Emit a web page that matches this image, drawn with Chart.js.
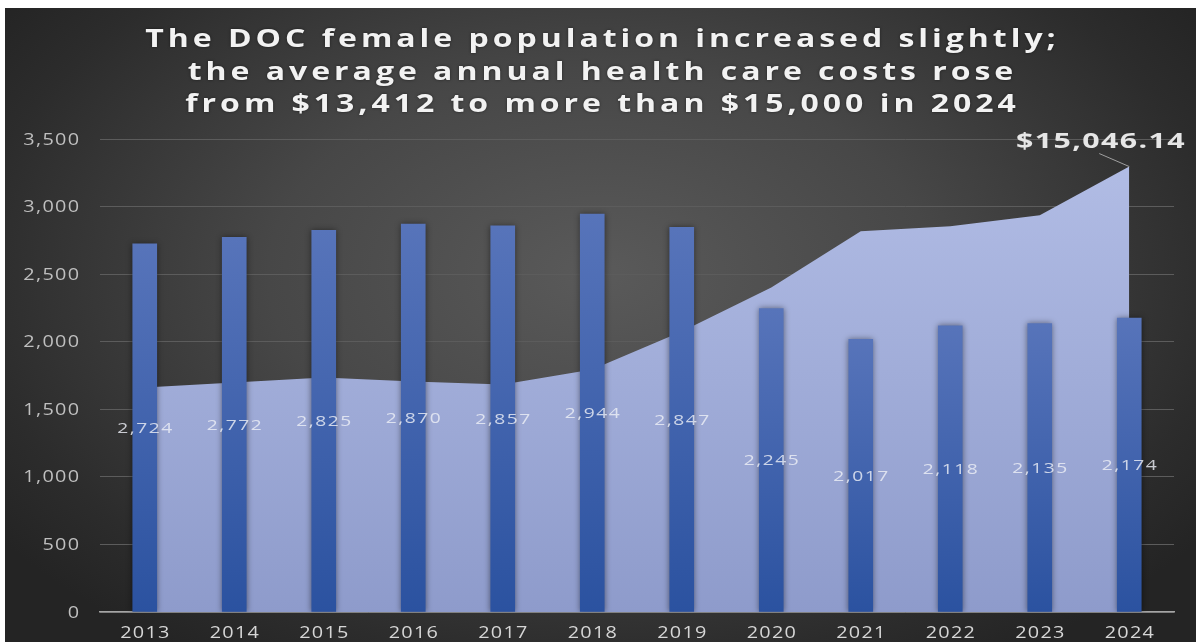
<!DOCTYPE html>
<html>
<head>
<meta charset="utf-8">
<script src="https://cdn.jsdelivr.net/npm/chart.js@4.4.1/dist/chart.umd.min.js"></script>
<style>
  html, body { margin: 0; padding: 0; background: #fff; }
  #wrap {
    position: absolute; left: 5px; top: 8px; width: 1191px; height: 634px;
    background: radial-gradient(ellipse 62% 72% at 50% 42%, #5a5a5a 0%, #474747 45%, #2c2c2c 85%, #242424 100%);
  }
</style>
</head>
<body>
<div id="wrap"><canvas id="costChart"></canvas></div>
<script>
// Female DOC population (bars) and average annual health care cost per inmate (area)
const years = ["2013", "2014", "2015", "2016", "2017", "2018", "2019", "2020", "2021", "2022", "2023", "2024"];
const femalePopulation = [2724, 2772, 2825, 2870, 2857, 2944, 2847, 2245, 2017, 2118, 2135, 2174];
const avgHealthCost = [13412, 13449, 13486, 13456, 13434, 13545, 13826, 14152, 14567, 14604, 14685, 15046.14];

const titleLines = [
  "The DOC female population increased slightly;",
  "the average annual health care costs rose",
  "from $13,412 to more than $15,000 in 2024",
];

// left axis in people, hidden right axis in dollars
const popAxis = { min: 0, max: 3500, step: 500 };
const costAxis = { min: 11750, max: 15250 };

// all text on this chart is drawn wide and a little spaced
const WIDE = 1.28;

Chart.defaults.font.family = '"Open Sans", sans-serif';

function barFill(ctx) {
  const chart = ctx.chart;
  if (!chart.chartArea || ctx.type !== "data") return "#3a5fab";
  const y = chart.scales.y;
  const top = y.getPixelForValue(ctx.raw);
  const base = y.getPixelForValue(0);
  const g = chart.ctx.createLinearGradient(0, top, 0, base);
  g.addColorStop(0, "#5774ba");
  g.addColorStop(1, "#2b52a0");
  return g;
}

function areaFill(ctx) {
  const area = ctx.chart.chartArea;
  if (!area) return "#a3afdc";
  const g = ctx.chart.ctx.createLinearGradient(0, area.top, 0, area.bottom);
  g.addColorStop(0, "#b3bee6");
  g.addColorStop(1, "#8e9bcb");
  return g;
}

function wideText(c, text, x, y, sx, align, spacing) {
  c.save();
  c.letterSpacing = spacing + "px";
  // trailing letter spacing would push the text off centre
  const shift = align === "center" ? spacing / 2 : align === "right" ? spacing : 0;
  c.translate(x, y);
  c.scale(sx, 1);
  c.textAlign = align;
  c.textBaseline = "alphabetic";
  c.fillText(text, shift, 0);
  c.restore();
}

// title, axis labels, bar labels, last cost label and the soft shadow on the bars
const chartText = {
  id: "chartText",
  beforeDatasetDraw(chart, args) {
    if (args.meta.type === "bar") {
      chart.ctx.shadowColor = "rgba(0,0,0,0.45)";
      chart.ctx.shadowBlur = 6;
    }
  },
  afterDatasetDraw(chart, args) {
    if (args.meta.type === "bar") {
      chart.ctx.shadowColor = "transparent";
      chart.ctx.shadowBlur = 0;
    }
  },
  afterDatasetsDraw(chart) {
    const c = chart.ctx;
    c.save();
    c.font = '15px "Open Sans"';
    c.fillStyle = "rgba(236,238,245,0.82)";
    chart.getDatasetMeta(0).data.forEach((bar, i) => {
      wideText(c, femalePopulation[i].toLocaleString("en-US"), bar.x, (bar.y + bar.base) / 2 + 5.4, WIDE, "center", 1.2);
    });

    const pts = chart.getDatasetMeta(1).data;
    const last = pts[pts.length - 1];
    const v = avgHealthCost[avgHealthCost.length - 1];
    c.strokeStyle = "#a0a0a0";
    c.lineWidth = 1;
    c.beginPath();
    c.moveTo(last.x - 30, last.y - 13);
    c.lineTo(last.x, last.y);
    c.stroke();
    c.font = 'bold 22px "Open Sans"';
    c.fillStyle = "#e6e6e6";
    wideText(c, "$" + v.toLocaleString("en-US", { minimumFractionDigits: 2 }), last.x - 29, last.y - 18.6, 1.38, "center", 1);
    c.restore();
  },
  afterDraw(chart) {
    const c = chart.ctx;
    const { x, y } = chart.scales;
    c.save();
    c.font = '15.5px "Open Sans"';
    c.fillStyle = "#d6d6d6";
    x.ticks.forEach((t, i) => {
      wideText(c, years[i], x.getPixelForTick(i), chart.height - 4, WIDE, "center", 1);
    });
    c.fillStyle = "#bfbfbf";
    y.ticks.forEach((t, i) => {
      wideText(c, t.label, y.left + y.width - 21, y.getPixelForTick(i) + 5.5, WIDE, "right", 1);
    });

    c.font = 'bold 25px "Open Sans"';
    c.fillStyle = "#f2f2f2";
    c.shadowColor = "rgba(0,0,0,0.5)";
    c.shadowBlur = 3;
    titleLines.forEach((t, i) => wideText(c, t, chart.width / 2, 39 + i * 32.5, WIDE, "center", 3.1));
    c.restore();
  },
};

new Chart(document.getElementById("costChart"), {
  data: {
    labels: years,
    datasets: [
      {
        type: "bar",
        label: "Female population",
        data: femalePopulation,
        yAxisID: "y",
        backgroundColor: barFill,
        barThickness: 24,
        order: 1,
      },
      {
        type: "line",
        label: "Average annual health care cost",
        data: avgHealthCost,
        yAxisID: "y2",
        backgroundColor: areaFill,
        borderWidth: 0,
        pointRadius: 0,
        tension: 0,
        fill: "start",
        order: 2,
      },
    ],
  },
  options: {
    responsive: true,
    maintainAspectRatio: false,
    animation: false,
    layout: { padding: { top: 131, right: 22, left: 0, bottom: 0 } },
    plugins: {
      legend: { display: false },
      tooltip: { enabled: false },
    },
    scales: {
      x: {
        z: 1,
        grid: { display: false, drawTicks: false },
        border: { display: true, color: "#a5a5a5", width: 1.5 },
        ticks: { display: false },
        afterFit(s) { s.height = 30; },
      },
      y: {
        min: popAxis.min,
        max: popAxis.max,
        ticks: { display: false, stepSize: popAxis.step },
        grid: { color: "#5c5c5c", lineWidth: 1, drawTicks: false },
        border: { display: false },
        afterFit(s) { s.width = 95; },
      },
      y2: {
        display: false,
        min: costAxis.min,
        max: costAxis.max,
      },
    },
  },
  plugins: [chartText],
});
</script>
</body>
</html>
